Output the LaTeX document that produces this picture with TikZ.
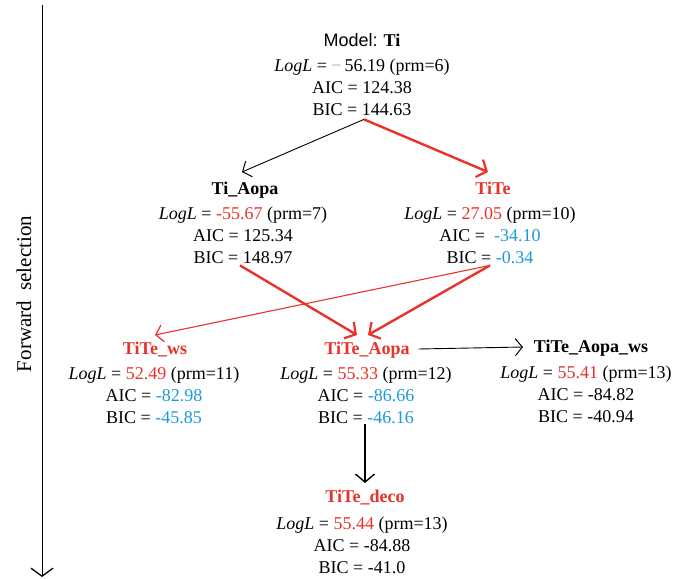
\documentclass[tikz,border=0pt]{standalone}
\usepackage{fontspec}
\setmainfont{Liberation Serif}
\newfontfamily\arialfont{Liberation Sans}
\usetikzlibrary{arrows.meta,calc}
\definecolor{redc}{RGB}{232,50,42}
\definecolor{bluec}{RGB}{26,154,214}
\definecolor{minusgray}{RGB}{170,170,170}
\begin{document}
\begin{tikzpicture}[x=1pt,y=-1pt,
  every node/.style={inner sep=0pt,outer sep=0pt},
  ttl/.style={font=\fontsize{18}{22}\selectfont\bfseries,text height=12pt,text depth=4pt},
  body/.style={font=\fontsize{18}{22}\selectfont,align=center},
  thinblack/.style={-{Straight Barb[length=7pt,width=17pt,line width=1pt]},line width=0.9pt,black},
  thickred/.style={-{Straight Barb[length=8pt,width=19pt,line width=2.2pt]},line width=2.4pt,redc},
  thinred/.style={-{Straight Barb[length=7pt,width=17pt,line width=1.2pt]},line width=1.1pt,redc},
  downblack/.style={-{Straight Barb[length=8pt,width=19pt,line width=1.4pt]},line width=1.4pt,black},
]
\useasboundingbox (0,0) rectangle (676,578);
% axis
\coordinate (axtop) at (42,5);
\coordinate (axbot) at (42,577);
\draw[line width=1pt,-{Straight Barb[length=8pt,width=22pt,line width=1.3pt]}] (axtop) -- (axbot);
\node[rotate=90,font=\fontsize{21}{24}\selectfont] (axlabel) at (24,294) {Forward\ \ selection};
% titles
\node[ttl] (modelT) at (362,42) {{\mdseries\arialfont Model:} Ti};
\node[ttl] (tiaopaT) at (245,190) {Ti\_Aopa};
\node[ttl,text=redc] (titeT) at (493,190) {TiTe};
\node[ttl,text=redc] (tewsT) at (155,350) {TiTe\_ws};
\node[ttl,text=redc] (teaopaT) at (367,350) {TiTe\_Aopa};
\node[ttl] (teaopawsT) at (591,348) {TiTe\_Aopa\_ws};
\node[ttl,text=redc] (decoT) at (365,498) {TiTe\_deco};
% bodies
\node[body] (modelB) at (362,87) {\textit{LogL} = {\color{minusgray}\textminus}\,56.19 (prm=6)\\AIC = 124.38\\BIC = 144.63};
\node[body] (tiaopaB) at (243,235) {\textit{LogL} = {\color{redc}-55.67} (prm=7)\\AIC = 125.34\\BIC = 148.97};
\node[body] (titeB) at (490,235) {\textit{LogL} = {\color{redc}27.05} (prm=10)\\AIC = \ {\color{bluec}-34.10}\\BIC = {\color{bluec}-0.34}};
\node[body] (tewsB) at (154,395) {\textit{LogL} = {\color{redc}52.49} (prm=11)\\AIC = {\color{bluec}-82.98}\\BIC = {\color{bluec}-45.85}};
\node[body] (teaopaB) at (366,395) {\textit{LogL} = {\color{redc}55.33} (prm=12)\\AIC = {\color{bluec}-86.66}\\BIC = {\color{bluec}-46.16}};
\node[body] (teaopawsB) at (586,394) {\textit{LogL} = {\color{redc}55.41} (prm=13)\\AIC = -84.82\\BIC = -40.94};
\node[body] (decoB) at (362,545) {\textit{LogL} = {\color{redc}55.44} (prm=13)\\AIC = -84.88\\BIC = -41.0};
% connectors
\draw[thinblack] ([xshift=2pt,yshift=-4pt]modelB.south) -- ([xshift=-3pt,yshift=10pt]tiaopaT.north);
\draw[thickred] ([xshift=2pt,yshift=-4pt]modelB.south) -- ([xshift=-5pt,yshift=10pt]titeT.north);
\draw[thickred] ([xshift=-3pt,yshift=-2pt]tiaopaB.south) -- ([xshift=-10pt,yshift=7pt]teaopaT.north);
\draw[thickred] ([yshift=-2pt]titeB.south) -- ([xshift=1pt,yshift=7pt]teaopaT.north);
\draw[thinred] ([yshift=-2pt]titeB.south) -- ([yshift=7pt]tewsT.north);
\draw[thinblack] ([xshift=9pt,yshift=1pt]teaopaT.east) -- ([xshift=-11pt,yshift=1pt]teaopawsT.west);
\draw[downblack] ([xshift=-1pt,yshift=-1pt]teaopaB.south) -- ([yshift=7pt]decoT.north);
\end{tikzpicture}
\end{document}
